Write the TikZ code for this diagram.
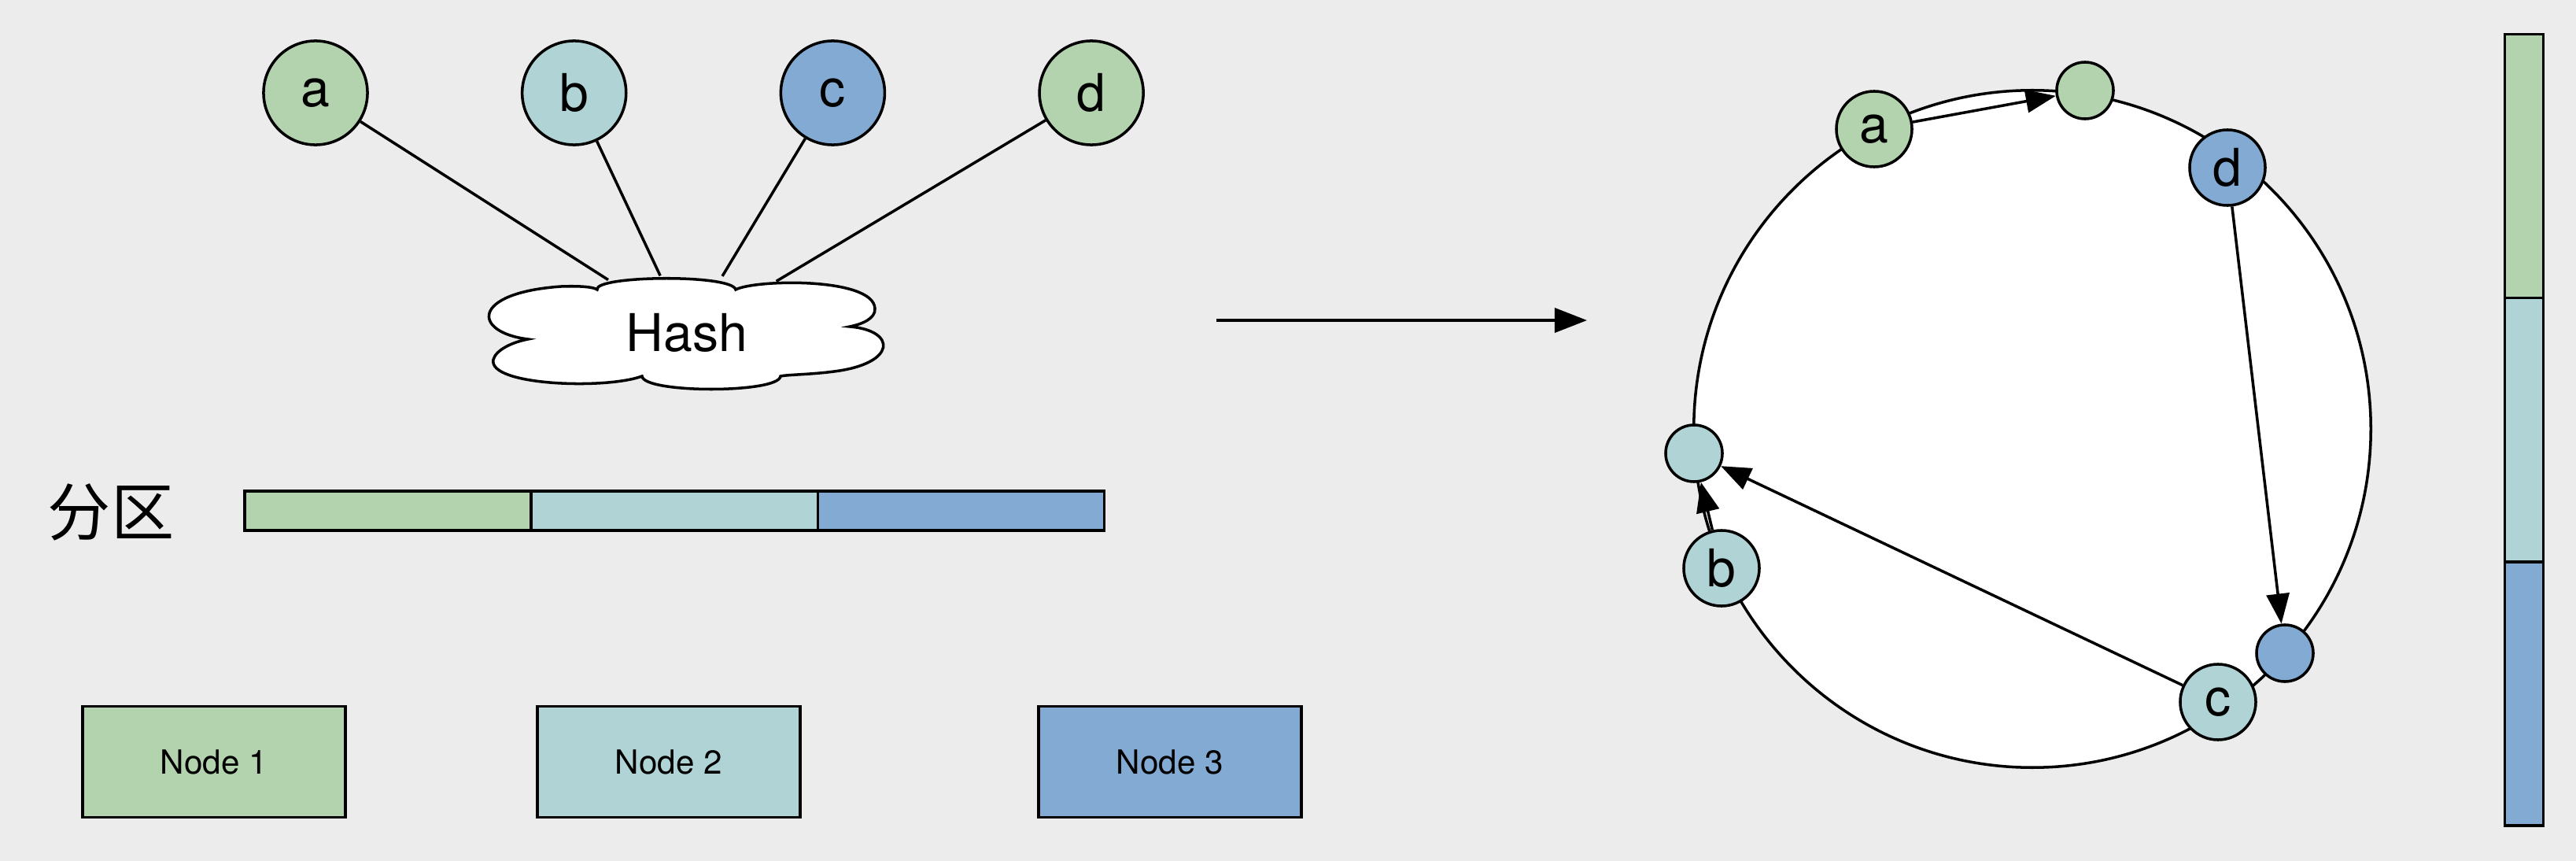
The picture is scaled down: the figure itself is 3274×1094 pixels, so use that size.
\documentclass[tikz,border=0pt]{standalone}
\usepackage{fontspec}
\setmainfont{TeX Gyre Heros}
\newfontfamily\cjkfont{Noto Sans CJK SC}
\usetikzlibrary{positioning,shapes.geometric,arrows.meta}
\definecolor{keygreen}{HTML}{B2D3AD}
\definecolor{keyteal}{HTML}{B0D4D6}
\definecolor{keyblue}{HTML}{82AAD3}
\definecolor{canvas}{HTML}{ECECEC}

\begin{document}
\begin{tikzpicture}[x=0.01cm, y=-0.01cm, line width=1pt,
    every node/.style={font=\fontsize{18.8}{21}\selectfont},
    key/.style={draw, circle, minimum size=1.32cm, inner sep=0pt},
    ringkey/.style={draw, circle, minimum size=0.96cm, inner sep=0pt},
    slot/.style={draw, circle, minimum size=0.72cm, inner sep=0pt},
    part/.style={draw, rectangle, minimum width=3.64cm, minimum height=0.5cm, inner sep=0pt, outer sep=0pt},
    server/.style={draw, rectangle, minimum width=3.34cm, minimum height=1.41cm, font=\fontsize{12}{14}\selectfont},
    band/.style={draw, rectangle, minimum width=0.49cm, minimum height=3.35cm, inner sep=0pt, outer sep=0pt},
    link/.style={-{Triangle[length=0.38cm,width=0.29cm]}}]
    % Background
    \fill[canvas] (0,0) rectangle (3274,1094);
    \useasboundingbox (0,0) rectangle (3274,1094);

    % Keys
    \node[key, fill=keygreen] (a) at (401,118) {a};
    \node[key, fill=keyteal, right=1.93cm of a] (b) {b};
    \node[key, fill=keyblue, right=1.93cm of b] (c) {c};
    \node[key, fill=keygreen, right=1.93cm of c] (d) {d};

    % Hash (cloud outline drawn by hand)
    \draw[fill=white] (671,431) .. controls (600,422) and (598,372) .. (713,364)
        .. controls (740,363) and (755,365) .. (759,368)
        .. controls (755,350) and (930,348) .. (935,368)
        .. controls (960,355) and (1110,352) .. (1112,392)
        .. controls (1113,405) and (1095,412) .. (1080,415)
        .. controls (1140,420) and (1140,462) .. (1060,472)
        .. controls (1030,476) and (1000,476) .. (992,478)
        .. controls (990,500) and (818,500) .. (816,478)
        .. controls (770,495) and (620,490) .. (627,457)
        .. controls (630,445) and (650,435) .. (671,431) -- cycle;
    \node[ellipse, minimum width=5.07cm, minimum height=1.43cm, inner sep=0pt] (hash) at (873,423) {Hash};
    \draw (a) -- (hash.146);
    \draw (b) -- (hash.115);
    \draw (c) -- (hash.58);
    \draw (d) -- (hash.30);

    % Partitions
    \node[part, fill=keygreen] (p1) at (493,649) {};
    \node[part, fill=keyteal, right=0pt of p1] (p2) {};
    \node[part, fill=keyblue, right=0pt of p2] (p3) {};
    \node[font=\cjkfont\fontsize{22.8}{25}\selectfont] (plabel) at (141,651) {分区};

    % Servers
    \node[server, fill=keygreen] (n1) at (272,968) {Node 1};
    \node[server, fill=keyteal] (n2) at (850,968) {Node 2};
    \node[server, fill=keyblue] (n3) at (1487,968) {Node 3};

    % Mapping
    \coordinate (mapfrom) at (1546,407);
    \coordinate (mapto) at (2017,407);
    \draw[-{Triangle[length=0.41cm,width=0.31cm]}] (mapfrom) -- (mapto);

    % Ring
    \node[draw, circle, fill=white, minimum size=8.6cm, inner sep=0pt] (ring) at (2583,545) {};
    \node[slot, fill=keygreen] (s1) at (2650,115) {};
    \node[slot, fill=keyblue] (s3) at (2904,830) {};
    \node[slot, fill=keyteal] (s2) at (2153,576) {};
    \node[ringkey, fill=keygreen] (ra) at (2382,164) {a};
    \node[ringkey, fill=keyblue] (rd) at (2831,213) {d};
    \node[ringkey, fill=keyteal] (rc) at (2819,892) {c};
    \node[ringkey, fill=keyteal] (rb) at (2188,722) {b};
    \draw[link] (ra) -- (s1);
    \draw[link] (rd) -- (s3);
    \draw[link] (rc) -- (s2);
    \draw[link] (rb) -- (s2);

    % Bands
    \node[band, fill=keygreen] (band1) at (3208,211) {};
    \node[band, fill=keyteal, below=0pt of band1] (band2) {};
    \node[band, fill=keyblue, below=0pt of band2] (band3) {};
\end{tikzpicture}
\end{document}
